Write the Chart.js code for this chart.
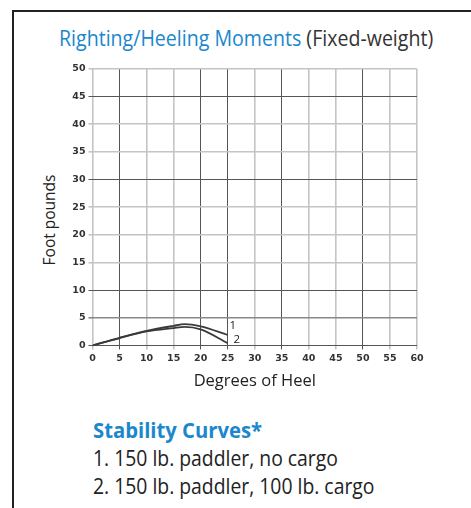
<!DOCTYPE html>
<html>
<head>
<meta charset="utf-8">
<script src="https://cdn.jsdelivr.net/npm/chart.js@4/dist/chart.umd.min.js"></script>
<style>
  html, body { margin: 0; padding: 0; background: #fff; }
  body { width: 471px; height: 508px; position: relative; overflow: hidden; font-family: "Open Sans", "Noto Sans", sans-serif; }
  .frame { position: absolute; left: 12px; top: 10px; width: 520px; height: 560px; border: 2px solid #222; }
  .title { position: absolute; left: 59px; top: 22px; font-size: 22px; line-height: 30px; color: #333; white-space: nowrap; transform: scaleX(0.89); transform-origin: left top; }
  .title .blue { color: #1b87cc; }
  .ytitle { position: absolute; left: 49px; top: 220px; transform: translate(-50%, -50%) rotate(-90deg); font-size: 15.5px; color: #222; white-space: nowrap; }
  .notes { position: absolute; left: 93px; top: 415px; font-size: 22px; line-height: 28px; color: #222; white-space: nowrap; }
  .notes div { transform: scaleX(0.88); transform-origin: left top; }
  .notes .head { color: #1b87cc; font-weight: bold; transform: scaleX(0.92); }
  #wrap { position: absolute; left: 0; top: 0; width: 471px; height: 400px; }
</style>
</head>
<body>
<div class="frame"></div>
<div class="title"><span class="blue">Righting/Heeling Moments</span> (Fixed-weight)</div>
<div class="ytitle">Foot pounds</div>
<div id="wrap"><canvas id="chart"></canvas></div>
<div class="notes">
  <div class="head">Stability Curves*</div>
  <div>1. 150 lb. paddler, no cargo</div>
  <div>2. 150 lb. paddler, 100 lb. cargo</div>
</div>
<script>
// data
const heelAngles = [0, 5, 10, 15, 17, 20, 25];
const curveNoCargo = [0, 1.4, 2.65, 3.55, 3.85, 3.45, 1.9];
const curveCargo = [0, 1.35, 2.55, 3.15, 3.35, 2.9, 0.4];
const curveLabels = ['1', '2'];

// grid look (the scan has some lines darker than others)
const darkX = [5, 20, 25, 35, 50];
const darkY = [0, 10, 30, 45];
const midY = [5];

const toPoints = ys => heelAngles.map((x, i) => ({ x, y: ys[i] }));

const curveTags = {
  id: 'curveTags',
  afterDatasetsDraw(chart) {
    const ctx = chart.ctx;
    const offsets = [[5, -9], [9, -4]];
    ctx.save();
    ctx.font = '11.5px "Open Sans", sans-serif';
    ctx.fillStyle = '#222';
    ctx.textAlign = 'center';
    ctx.textBaseline = 'middle';
    chart.data.datasets.forEach((ds, i) => {
      const meta = chart.getDatasetMeta(i);
      const last = meta.data[meta.data.length - 1];
      ctx.fillText(curveLabels[i], last.x + offsets[i][0], last.y + offsets[i][1]);
    });
    ctx.restore();
  }
};

function gridColor(val, dark, mid) {
  if (dark.includes(val)) return '#555';
  if (mid && mid.includes(val)) return '#888';
  return '#c4c4c4';
}

const tickFont = { family: 'DejaVu Sans', size: 9.5, weight: 'bold' };

new Chart(document.getElementById('chart'), {
  type: 'line',
  data: {
    datasets: [
      { data: toPoints(curveNoCargo), borderColor: '#3a3a3a', borderWidth: 1.8, pointRadius: 0, cubicInterpolationMode: 'monotone', fill: false },
      { data: toPoints(curveCargo), borderColor: '#3a3a3a', borderWidth: 1.8, pointRadius: 0, cubicInterpolationMode: 'monotone', fill: false }
    ]
  },
  options: {
    responsive: true,
    maintainAspectRatio: false,
    animation: false,
    layout: { padding: { top: 69, right: 54, left: 0, bottom: 0 } },
    plugins: { legend: { display: false }, tooltip: { enabled: false } },
    scales: {
      x: {
        type: 'linear', min: 0, max: 60,
        border: { display: false },
        ticks: { stepSize: 5, padding: 3, color: '#333', font: tickFont },
        grid: {
          tickLength: 4,
          color: c => gridColor(c.tick.value, darkX),
          lineWidth: c => darkX.includes(c.tick.value) ? 1 : 1.6
        },
        title: { display: true, text: 'Degrees of Heel', color: '#222', padding: { top: 0, bottom: 9 }, font: { family: '"Open Sans", sans-serif', size: 16.5 } },
        afterFit: s => { s.height = 54.5; }
      },
      y: {
        min: 0, max: 50,
        border: { display: false },
        ticks: { stepSize: 5, padding: 3, color: '#333', font: tickFont },
        grid: {
          tickLength: 4,
          color: c => gridColor(c.tick.value, darkY, midY),
          lineWidth: c => darkY.includes(c.tick.value) ? 1 : 1.6
        },
        afterFit: s => { s.width = 92.5; }
      }
    }
  },
  plugins: [curveTags]
});
</script>
</body>
</html>
